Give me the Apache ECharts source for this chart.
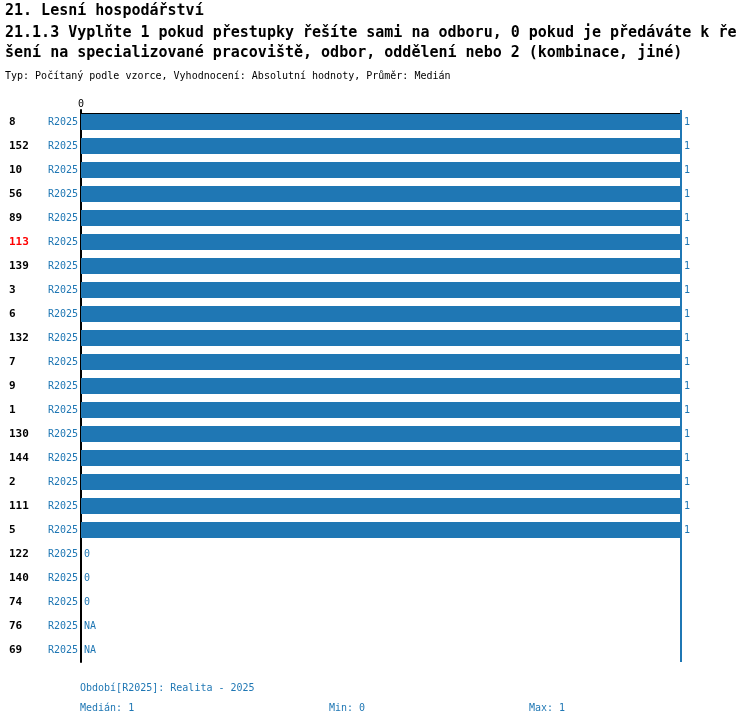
<!DOCTYPE html>
<html lang="cs">
<head>
    <meta charset="UTF-8">
    <title>Lesní hospodářství</title>
    <style>
        html, body {
            margin: 0;
            padding: 0;
            background: #fff;
        }

        #chart1 {
            width: 750px;
            height: 726px;
        }
    </style>
</head>
<body>
<div id="chart1"></div>
<script src="https://cdn.jsdelivr.net/npm/echarts@6/dist/echarts.min.js"></script>
<script type="text/javascript">
    // data
    var ids = ['8', '152', '10', '56', '89', '113', '139', '3', '6', '132', '7', '9', '1',
        '130', '144', '2', '111', '5', '122', '140', '74', '76', '69'];
    var period = 'R2025';
    var values = [1, 1, 1, 1, 1, 1, 1, 1, 1, 1, 1, 1, 1, 1, 1, 1, 1, 1, 0, 0, 0, null, null];
    var highlightId = '113';
    var xTicks = [0];
    var median = 1, minVal = 0, maxVal = 1;

    var blue = '#1f77b4';
    var mono = '"DejaVu Sans Mono", monospace';

    var chart1 = echarts.init(document.getElementById('chart1'));

    chart1.setOption({
        animation: false,
        title: [{
            text: '21. Lesní hospodářství',
            left: 0, top: -1,
            textStyle: {fontFamily: mono, fontSize: 15, fontWeight: 'bold', color: '#000'}
        }, {
            text: '21.1.3 Vyplňte 1 pokud přestupky řešíte sami na odboru, 0 pokud je předáváte k ře\nšení na specializované pracoviště, odbor, oddělení nebo 2 (kombinace, jiné)',
            left: 0, top: 18,
            textStyle: {fontFamily: mono, fontSize: 15, fontWeight: 'bold', color: '#000', lineHeight: 20}
        }, {
            text: 'Typ: Počítaný podle vzorce, Vyhodnocení: Absolutní hodnoty, Průměr: Medián',
            left: 0, top: 66,
            textStyle: {fontFamily: mono, fontSize: 10, fontWeight: 'normal', color: '#000'}
        }],
        grid: {left: 81, width: 600, top: 110, height: 552},
        xAxis: {
            type: 'value',
            position: 'top',
            min: 0,
            max: 1,
            offset: -4,
            splitLine: {show: false},
            axisTick: {show: false},
            axisLine: {show: true, lineStyle: {color: '#000', width: 2}},
            axisLabel: {
                margin: 5,
                fontFamily: mono, fontSize: 10, color: '#000',
                formatter: function (v) {
                    return xTicks.indexOf(v) >= 0 ? String(v) : '';
                }
            }
        },
        yAxis: {
            type: 'category',
            inverse: true,
            data: ids,
            axisTick: {show: false},
            axisLine: {show: true, lineStyle: {color: '#000', width: 2}},
            axisLabel: {
                margin: 3,
                formatter: function (v) {
                    var cls = v === highlightId ? 'hi' : 'id';
                    return '{' + cls + '|' + v + '}{p|' + period + '}';
                },
                rich: {
                    id: {fontFamily: mono, fontSize: 11, fontWeight: 'bold', color: '#000', width: 39, align: 'left'},
                    hi: {fontFamily: mono, fontSize: 11, fontWeight: 'bold', color: '#ff0000', width: 39, align: 'left'},
                    p: {fontFamily: mono, fontSize: 10, color: blue}
                }
            }
        },
        series: [{
            type: 'bar',
            barWidth: 16,
            itemStyle: {color: blue},
            data: values.map(function (v) {
                return v === null ? 0 : v;
            }),
            label: {
                show: true,
                position: 'right',
                distance: 3,
                fontFamily: mono, fontSize: 10, color: blue,
                formatter: function (p) {
                    var raw = values[p.dataIndex];
                    return raw === null ? 'NA' : String(raw);
                }
            },
            markLine: {
                silent: true,
                symbol: 'none',
                label: {show: false},
                lineStyle: {color: blue, width: 2, type: 'solid', opacity: 1},
                data: [{xAxis: median}]
            }
        }],
        graphic: [{
            type: 'text', left: 80, top: 683,
            style: {text: 'Období[' + period + ']: Realita - 2025', font: '10px ' + mono, fill: blue}
        }, {
            type: 'text', left: 80, top: 703,
            style: {text: 'Medián: ' + median, font: '10px ' + mono, fill: blue}
        }, {
            type: 'text', left: 329, top: 703,
            style: {text: 'Min: ' + minVal, font: '10px ' + mono, fill: blue}
        }, {
            type: 'text', left: 529, top: 703,
            style: {text: 'Max: ' + maxVal, font: '10px ' + mono, fill: blue}
        }]
    });
</script>
</body>
</html>
